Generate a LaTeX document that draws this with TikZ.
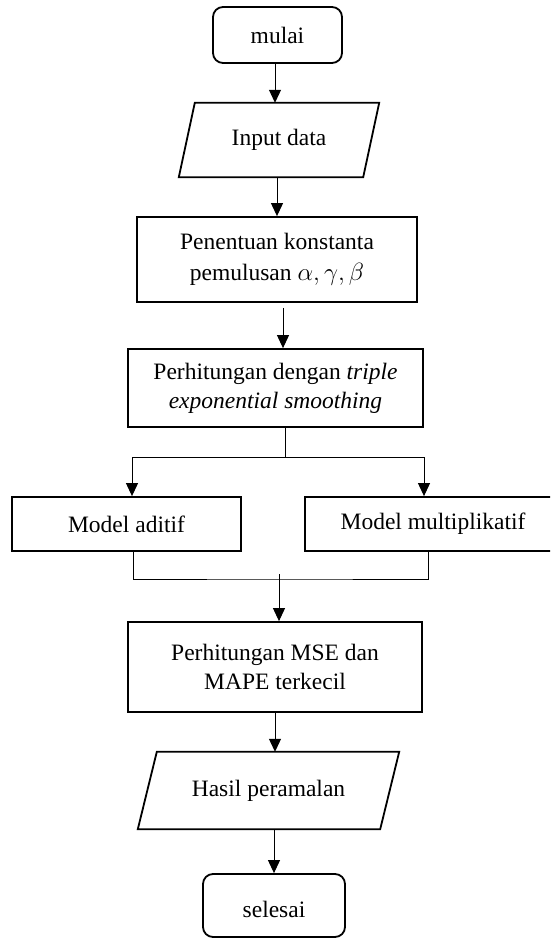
\documentclass[tikz,border=0pt]{standalone}
\usepackage{fontspec}
\setmainfont{Liberation Serif}
\usetikzlibrary{arrows.meta,calc}
\begin{document}
\begin{tikzpicture}[x=1pt,y=-1pt,
  txt/.style={align=center,inner sep=0pt,font=\fontsize{23.5}{29}\selectfont},
  box/.style={txt,draw,line width=1.8pt},
  termbox/.style={box,rounded corners=10pt},
  ioshape/.style={txt},
  ioline/.style={draw,line width=1.8pt,line join=miter},
  conn/.style={line width=1pt},
  arr/.style={conn,-{Triangle[width=12pt,length=13pt]}}
]
\useasboundingbox (0,0) rectangle (550,939);
\clip (0,0) rectangle (550,939);

% nodes
\node[termbox,minimum width=129pt,minimum height=56pt] (mulai) at (277.5,35) {mulai};

\node[ioshape,minimum width=184pt,minimum height=74pt] (input) at (279,140) {Input data};
\draw[ioline] ([xshift=8pt]input.north west) -- ([xshift=8pt]input.north east)
  -- ([xshift=-8pt]input.south east) -- ([xshift=-8pt]input.south west) -- cycle;

\node[box,minimum width=280pt,minimum height=85pt,font=\fontsize{23.5}{31}\selectfont] (tentu) at (277,259.5)
  {Penentuan konstanta\\pemulusan $\alpha,\gamma,\beta$};

\node[box,minimum width=295pt,minimum height=78pt] (hitung) at (275.5,388)
  {Perhitungan dengan \textit{triple}\\\textit{exponential smoothing}};

\node[box,minimum width=229pt,minimum height=54pt] (aditif) at (126.5,524) {Model aditif};
\node[box,minimum width=256pt,minimum height=54pt] (multi) at (433,524) {Model multiplikatif};

\node[box,minimum width=294pt,minimum height=90pt] (mse) at (275,667)
  {Perhitungan MSE dan\\MAPE terkecil};

\node[ioshape,minimum width=242pt,minimum height=77pt] (hasil) at (268.5,790.5) {Hasil peramalan};
\draw[ioline] ([xshift=9.5pt]hasil.north west) -- ([xshift=9.5pt]hasil.north east)
  -- ([xshift=-9.5pt]hasil.south east) -- ([xshift=-9.5pt]hasil.south west) -- cycle;

\node[termbox,minimum width=142pt,minimum height=63pt,text height=23pt,text depth=0pt] (selesai) at (274,905.5) {selesai};

% connectors
\draw[arr] ([xshift=-2.5pt]mulai.south) -- ([xshift=-2.5pt]mulai.south |- input.north);
\draw[arr] (tentu |- input.south) -- (tentu.north);
\draw[arr] ([xshift=6pt,yshift=-5pt]tentu.south) -- ([xshift=6pt]tentu.south |- hitung.north);

\coordinate (split) at (285,457);
\draw[conn] (split |- hitung.south) -- (split);
\draw[arr] (split) -| ([xshift=5.5pt]aditif.north);
\draw[arr] (split) -| ([xshift=-9pt]multi.north);

\coordinate (merge) at (279,579);
\draw[conn] ([xshift=6.5pt]aditif.south) |- (merge) -| ([xshift=-5pt]multi.south);
\draw[arr] ([yshift=5pt]merge) -- (merge |- mse.north);

\draw[arr] (mse.south) -- (mse.south |- hasil.north);
\draw[arr] (selesai |- hasil.south) -- (selesai.north);
\end{tikzpicture}
\end{document}
